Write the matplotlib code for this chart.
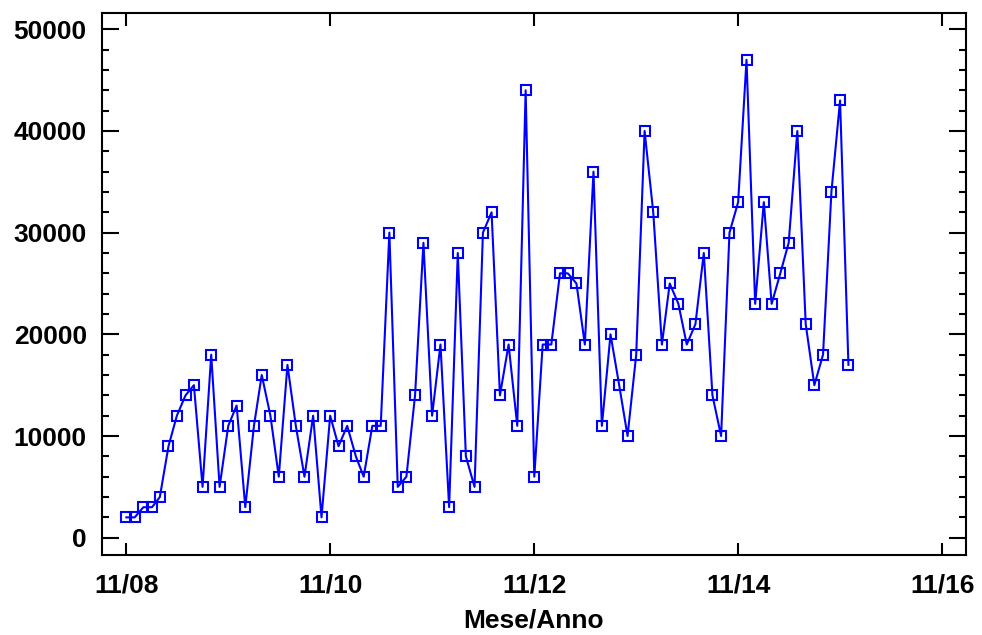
import matplotlib
matplotlib.use("Agg")
import matplotlib.pyplot as plt
import matplotlib.dates as mdates
from matplotlib.ticker import MultipleLocator
import pandas as pd

# monthly values, Nov 2008 -> Dec 2015
start_month = "2008-11-01"
values = [2000, 2000, 3000, 3000, 4000, 9000, 12000, 14000, 15000, 5000,
          18000, 5000, 11000, 13000, 3000, 11000, 16000, 12000, 6000, 17000,
          11000, 6000, 12000, 2000, 12000, 9000, 11000, 8000, 6000, 11000,
          11000, 30000, 5000, 6000, 14000, 29000, 12000, 19000, 3000, 28000,
          8000, 5000, 30000, 32000, 14000, 19000, 11000, 44000, 6000, 19000,
          19000, 26000, 26000, 25000, 19000, 36000, 11000, 20000, 15000, 10000,
          18000, 40000, 32000, 19000, 25000, 23000, 19000, 21000, 28000, 14000,
          10000, 30000, 33000, 47000, 23000, 33000, 23000, 26000, 29000, 40000,
          21000, 15000, 18000, 34000, 43000, 17000]
months = pd.date_range(start_month, periods=len(values), freq="MS")

tick_dates = pd.to_datetime(["2008-11-01", "2010-11-01", "2012-11-01",
                             "2014-11-01", "2016-11-01"])

plt.rcParams['font.family'] = ['Liberation Sans', 'DejaVu Sans']
plt.rcParams['font.weight'] = 'bold'

fig = plt.figure(figsize=(9.82, 6.35), dpi=100)
ax = fig.add_axes([0.1039, 0.126, 0.8798, 0.8535])

ax.plot(months, values, color='#0000FF', linewidth=1.5, marker='s',
        markersize=7.5, markerfacecolor='none', markeredgecolor='#0000FF',
        markeredgewidth=1.5)

ax.set_xlim(pd.Timestamp("2008-08-06"), pd.Timestamp("2017-01-25"))
ax.set_ylim(-1700, 51600)

ax.set_xticks(tick_dates)
ax.xaxis.set_major_formatter(mdates.DateFormatter("%m/%y"))
ax.yaxis.set_major_locator(MultipleLocator(10000))
ax.yaxis.set_minor_locator(MultipleLocator(2000))

for s in ax.spines.values():
    s.set_linewidth(1.5)

ax.tick_params(axis='both', which='major', direction='in', top=True, right=True,
               width=1.5, labelsize=19)
ax.tick_params(axis='y', which='major', length=12, pad=11)
ax.tick_params(axis='x', which='major', length=9, pad=13)
ax.tick_params(axis='y', which='minor', direction='in', right=True, length=5, width=1.5)

ax.set_xlabel("Mese/Anno", fontsize=19, fontweight='bold', labelpad=8)

fig.savefig("out.png", dpi=100)
